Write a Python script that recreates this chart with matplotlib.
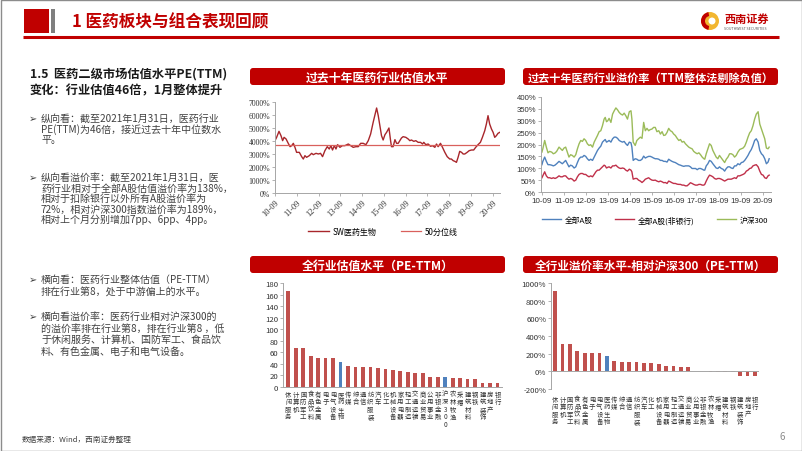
import matplotlib
matplotlib.use("Agg")
import matplotlib.pyplot as plt
from matplotlib.patches import FancyBboxPatch, Rectangle, Circle, Wedge

plt.rcParams['font.family'] = ['Noto Sans CJK SC', 'DejaVu Sans']
plt.rcParams['axes.unicode_minus'] = False

W, H = 802, 452

# ---- data ----
# PE(TTM) of SW pharma, months counted from 2010-09
pe_month = [0, 0.9, 2.2, 3.3, 4.2, 5.0, 6.1, 7.3, 8.3, 9.2,
            10.1, 11.0, 11.9, 13.4, 14.7, 15.6, 16.5, 17.4, 18.9, 20.2,
            21.1, 22.6, 23.9, 25.1, 26.2, 27.5, 28.8, 29.9, 30.8, 31.7,
            32.7, 33.6, 34.5, 35.8, 37.1, 38.5, 40.4, 41.7, 43.1, 44.6,
            45.9, 47.2, 48.6, 50.1, 51.4, 52.7, 54.1, 55.2, 56.0, 56.9,
            57.8, 58.7, 59.6, 60.6, 61.5, 62.8, 63.7, 64.2, 65.1, 66.1,
            67.0, 67.9, 68.8, 69.7, 70.6, 72.1, 73.4, 74.3, 75.2, 76.5,
            77.6, 78.9, 80.2, 81.3, 82.0, 83.1, 84.4, 85.7, 86.8, 88.1,
            89.0, 89.9, 91.2, 92.3, 93.6, 94.9, 96.3, 97.2, 98.2, 99.1,
            100.0, 100.9, 101.8, 102.8, 103.7, 104.6, 105.9, 107.0, 108.3, 109.5,
            110.6, 111.9, 113.2, 114.3, 115.6, 116.5, 117.4, 118.3, 119.3, 120.2,
            121.1, 122.0, 122.9, 123.9]
pe_value = [4026, 4282, 4744, 4410, 4026, 4282, 4154, 3821, 3564, 3641,
            3821, 3513, 3128, 3128, 2795, 2615, 2872, 2744, 2872, 3051,
            2949, 3051, 3000, 3051, 2795, 3256, 3564, 3385, 3641, 3308,
            3641, 3385, 3718, 3513, 3641, 3641, 3769, 3641, 3513, 3564,
            3564, 3821, 3821, 3718, 4026, 4538, 5436, 6077, 6538, 5949,
            5179, 4410, 4077, 4487, 4667, 5000, 4026, 3564, 3564, 4103,
            3821, 3821, 4026, 4231, 4333, 4282, 4154, 4026, 4077, 3974,
            4026, 3897, 3897, 3769, 3897, 3718, 3769, 3590, 3641, 3513,
            3769, 3564, 3821, 3513, 3128, 2795, 2615, 2615, 2487, 2436,
            2359, 2744, 3205, 3128, 3000, 3000, 3128, 3256, 3308, 3308,
            3513, 3718, 3897, 4282, 4795, 5308, 5949, 5308, 4923, 4667,
            4282, 4410, 4590, 4667]
pe_median = 3690
time_ticks = ["10-09", "11-09", "12-09", "13-09", "14-09", "15-09",
              "16-09", "17-09", "18-09", "19-09", "20-09"]

# premium rates (%), months counted from 2010-09
prem_month = [0, 0.5, 1.5, 2.4, 3.3, 4.2, 5.3, 6.2, 7.1, 8.0,
              9.3, 10.2, 11.1, 12.0, 12.9, 13.8, 14.7, 15.6, 16.5, 17.5,
              18.4, 19.3, 20.2, 21.1, 22.0, 22.9, 23.8, 24.7, 25.6, 26.5,
              27.5, 28.4, 29.3, 30.2, 31.1, 32.0, 32.9, 33.8, 34.4, 35.1,
              35.8, 36.5, 37.5, 38.4, 39.3, 40.2, 41.1, 42.0, 42.9, 43.8,
              44.7, 45.6, 46.5, 47.5, 48.4, 48.9, 49.6, 50.7, 51.6, 52.5,
              53.5, 54.4, 55.3, 56.2, 57.1, 58.0, 58.9, 59.8, 60.7, 61.6,
              62.5, 63.5, 64.4, 65.3, 66.2, 67.1, 68.0, 68.9, 69.8, 70.7,
              71.6, 72.5, 73.5, 74.4, 75.3, 76.2, 77.1, 78.0, 78.9, 79.8,
              80.7, 81.6, 82.5, 83.5, 84.4, 85.3, 86.2, 87.1, 88.0, 88.5,
              89.3, 90.2, 91.1, 92.0, 92.9, 93.8, 94.7, 95.6, 96.5, 97.5,
              98.4, 99.3, 100.2, 101.1, 102.0, 102.9, 103.8, 104.7, 105.6, 106.5,
              107.5, 108.4, 109.3, 110.2, 111.1, 112.0, 112.9, 113.8, 114.7, 115.6,
              116.5, 117.5, 118.4, 119.3, 120.2, 121.1, 122.0, 122.9, 123.5]
prem_all = [115, 129, 147, 129, 115, 115, 113, 110, 113, 119,
            129, 124, 119, 126, 133, 119, 106, 113, 110, 101,
            106, 124, 140, 147, 147, 154, 150, 140, 133, 138,
            133, 147, 161, 175, 185, 193, 210, 217, 221, 210,
            213, 217, 210, 224, 231, 231, 226, 217, 213, 210,
            213, 203, 196, 210, 207, 189, 133, 140, 138, 133,
            133, 138, 151, 143, 147, 150, 150, 147, 143, 140,
            140, 138, 133, 133, 129, 129, 126, 138, 133, 129,
            126, 124, 119, 115, 113, 110, 108, 110, 110, 110,
            106, 99, 99, 99, 94, 99, 99, 96, 92, 92,
            110, 119, 133, 129, 119, 110, 101, 99, 106, 99,
            96, 88, 99, 106, 106, 101, 99, 110, 110, 119,
            115, 124, 126, 133, 143, 154, 168, 179, 196, 217,
            224, 210, 175, 161, 154, 140, 119, 126, 140]
prem_nonbank = [60, 68, 85, 68, 60, 60, 57, 60, 57, 60,
                68, 64, 64, 68, 68, 60, 54, 57, 54, 46,
                50, 64, 74, 78, 78, 74, 74, 68, 64, 68,
                64, 74, 85, 92, 92, 99, 106, 113, 110, 101,
                104, 106, 101, 110, 110, 113, 106, 101, 99, 101,
                99, 92, 88, 96, 92, 85, 54, 57, 57, 50,
                46, 40, 46, 54, 57, 60, 54, 50, 49, 50,
                46, 43, 46, 43, 39, 40, 36, 46, 43, 39,
                36, 36, 33, 32, 32, 29, 29, 26, 26, 32,
                39, 36, 32, 29, 29, 32, 32, 29, 29, 32,
                46, 60, 71, 68, 64, 57, 54, 57, 57, 54,
                50, 46, 50, 54, 54, 54, 57, 60, 57, 68,
                68, 71, 74, 78, 88, 92, 99, 101, 110, 113,
                115, 106, 88, 74, 71, 60, 57, 68, 71]
prem_hs300 = [168, 182, 217, 189, 165, 171, 168, 161, 164, 171,
              189, 182, 175, 185, 189, 168, 147, 157, 154, 147,
              157, 182, 203, 217, 213, 224, 217, 203, 196, 199,
              189, 210, 224, 238, 254, 258, 279, 307, 314, 296,
              300, 310, 293, 328, 342, 354, 346, 335, 328, 324,
              332, 321, 307, 338, 342, 307, 210, 196, 217, 224,
              231, 226, 293, 258, 268, 258, 263, 265, 272, 272,
              254, 258, 244, 254, 238, 240, 251, 268, 258, 254,
              244, 238, 226, 217, 221, 210, 213, 203, 196, 189,
              185, 182, 171, 165, 161, 165, 157, 147, 140, 138,
              161, 182, 203, 196, 175, 161, 147, 140, 154, 143,
              133, 124, 138, 147, 161, 161, 157, 147, 154, 168,
              179, 182, 185, 193, 210, 231, 249, 258, 279, 307,
              328, 338, 286, 265, 244, 224, 185, 182, 189]

# industry PE(TTM)
pe_inds = ["休闲服务", "计算机", "国防军工", "食品饮料", "有色金属", "电子", "电气设备",
           "医药生物", "传媒", "综合", "通信", "纺织服装", "汽车", "化工", "机械设备",
           "家用电器", "轻工制造", "交通运输", "商业贸易", "公用事业", "非银金融", "沪深300",
           "农林牧渔", "采掘", "建筑材料", "钢铁", "建筑装饰", "房地产", "银行"]
pe_ind_values = [166, 68, 67, 54, 50, 50, 50, 44, 37, 34, 34, 34, 33, 32, 30,
                 27, 26, 25, 24, 18, 17, 17, 16, 15, 14, 14, 7, 7, 7]

# industry premium vs HS300 (%)
prem_inds = ["休闲服务", "计算机", "国防军工", "食品饮料", "有色金属", "电子", "电气设备",
             "医药生物", "传媒", "综合", "通信", "纺织服装", "汽车", "化工", "机械设备",
             "家用电器", "轻工制造", "交通运输", "商业贸易", "公用事业", "非银金融",
             "农林牧渔", "采掘", "建筑材料", "钢铁", "建筑装饰", "房地产", "银行"]
prem_ind_values = [910, 315, 310, 230, 205, 205, 205, 170, 115, 105, 105, 105, 100, 95,
                   80, 60, 55, 50, 45, 5, 3, -2, -3, -5, -5, -50, -50, -50]
highlight = ["医药生物", "沪深300"]

RED = '#C00000'
BAR_RED = '#C0504D'
BAR_BLUE = '#4F81BD'
GREEN = '#9BBB59'
AXC = '#A6A6A6'

fig = plt.figure(figsize=(W / 100, H / 100), dpi=100)
bg = fig.add_axes([0, 0, 1, 1])
bg.set_xlim(0, W)
bg.set_ylim(H, 0)
bg.axis('off')


def box(x0, y0, x1, y1):
    return [x0 / W, 1 - y1 / H, (x1 - x0) / W, (y1 - y0) / H]


def banner(x0, y0, x1, y1, text, fs):
    bg.add_patch(FancyBboxPatch((x0, y0), x1 - x0, y1 - y0,
                                boxstyle="round,pad=0,rounding_size=3",
                                fc=RED, ec='none'))
    bg.text((x0 + x1) / 2, (y0 + y1) / 2 + 0.5, text, color='white', fontsize=fs,
            fontweight='bold', ha='center', va='center')


# slide frame + header
bg.add_patch(Rectangle((0.5, 0.5), W - 1, H - 1, fill=False, ec='#8C8C8C', lw=1))
bg.add_patch(Rectangle((24, 10), 25, 24, fc=RED, ec='none'))
bg.add_patch(Rectangle((51, 10), 4, 24, fc='#7F7F7F', ec='none'))
bg.text(72, 22, "1 医药板块与组合表现回顾", color=RED, fontsize=12,
        fontweight='bold', va='center', ha='left')
bg.plot([23, 779], [38, 38], color=RED, lw=2.2, solid_capstyle='butt')
bg.add_patch(Circle((710, 22), 9, fc='#F2B630', ec='none'))
bg.add_patch(Wedge((710, 22), 9, 100, 260, width=4, fc=RED, ec='none'))
bg.add_patch(Circle((712, 22), 3.5, fc='white', ec='none'))
bg.text(724, 19, "西南证券", color=RED, fontsize=8, fontweight='bold', va='center')
bg.text(724, 29, "SOUTHWEST SECURITIES", color='#555555', fontsize=2.6, va='center')

# left text block
bg.text(30, 74, "1.5  医药二级市场估值水平PE(TTM)", fontsize=8.8, fontweight='bold',
        color='#1A1A1A', va='center')
bg.text(30, 91, "变化：行业估值46倍，1月整体提升", fontsize=8.8, fontweight='bold',
        color='#1A1A1A', va='center')

bullets = [
    ([119, 129.5, 140], ["纵向看：截至2021年1月31日，医药行业",
                         "PE(TTM)为46倍，接近过去十年中位数水",
                         "平。"]),
    ([178, 188.5, 199, 209.5, 220], ["纵向看溢价率：截至2021年1月31日，医",
                                     "药行业相对于全部A股估值溢价率为138%，",
                                     "相对于扣除银行以外所有A股溢价率为",
                                     "72%，相对沪深300指数溢价率为189%，",
                                     "相对上个月分别增加7pp、6pp、4pp。"]),
    ([280, 291.5], ["横向看：医药行业整体估值（PE-TTM）",
                    "排在行业第8，处于中游偏上的水平。"]),
    ([317, 328.5, 340, 351.5], ["横向看溢价率：医药行业相对沪深300的",
                                "的溢价率排在行业第8，排在行业第8 ，低",
                                "于休闲服务、计算机、国防军工、食品饮",
                                "料、有色金属、电子和电气设备。"]),
]
for ys, lines in bullets:
    bg.text(29, ys[0], "➢", fontsize=7, color='#404040', va='center',
            family=['DejaVu Sans'])
    for y, line in zip(ys, lines):
        bg.text(41, y, line, fontsize=7.2, color='#404040', va='center')

# footer
bg.text(22, 440, "数据来源：Wind，西南证券整理", fontsize=5.5, color='#404040', va='center')
bg.text(780, 437, "6", fontsize=7, color='#8C8C8C', va='center')

# banners
banner(250, 69, 505, 86, "过去十年医药行业估值水平", 8.6)
banner(523, 69, 778, 86, "过去十年医药行业溢价率（TTM整体法剔除负值）", 8)
banner(250, 257, 505, 274, "全行业估值水平（PE-TTM）", 8.6)
banner(523, 257, 778, 274, "全行业溢价率水平-相对沪深300（PE-TTM）", 8.4)


def style_axes(ax):
    for s in ['top', 'right']:
        ax.spines[s].set_visible(False)
    for s in ['left', 'bottom']:
        ax.spines[s].set_color(AXC)
        ax.spines[s].set_linewidth(0.7)
    ax.tick_params(colors=AXC, length=2, width=0.6, labelcolor='#333333', pad=1.5)
    ax.patch.set_alpha(0)


# chart 1: PE history
ax1 = fig.add_axes(box(275, 103, 500, 194))
style_axes(ax1)
ax1.plot(pe_month, pe_value, color='#A8262B', lw=1.0, label="SW医药生物")
ax1.axhline(pe_median, color='#D9605C', lw=0.9, label="50分位线")
ax1.set_xlim(0, 124)
ax1.set_ylim(0, 7000)
ax1.set_yticks(range(0, 7001, 1000))
ax1.set_yticklabels([f"{v}%" for v in range(0, 7001, 1000)], fontsize=5.6,
                    family='Liberation Serif')
ax1.set_xticks(range(0, 121, 12))
ax1.set_xticklabels(time_ticks, fontsize=6, family='Liberation Serif',
                    rotation=45, ha='right', rotation_mode='anchor')
ax1.legend(loc='center', bbox_to_anchor=(383 / W, 1 - 232 / H),
           bbox_transform=fig.transFigure, ncol=2, frameon=False, fontsize=5.8,
           handlelength=2.5, columnspacing=3, handletextpad=0.5)

# chart 2: premium history
ax2 = fig.add_axes(box(541, 98, 771, 193))
style_axes(ax2)
ax2.plot(prem_month, prem_all, color=BAR_BLUE, lw=1.0, label="全部A股")
ax2.plot(prem_month, prem_nonbank, color='#C0304A', lw=1.0, label="全部A股(非银行)")
ax2.plot(prem_month, prem_hs300, color=GREEN, lw=1.0, label="沪深300")
ax2.set_xlim(-0.5, 124.5)
ax2.set_ylim(0, 400)
ax2.set_yticks(range(0, 401, 50))
ax2.set_yticklabels([f"{v}%" for v in range(0, 401, 50)], fontsize=5.6,
                    family='Liberation Sans')
ax2.set_xticks(range(0, 121, 12))
ax2.set_xticklabels(time_ticks, fontsize=5.8, family='Liberation Sans')
ax2.legend(loc='center', bbox_to_anchor=(655 / W, 1 - 221 / H),
           bbox_transform=fig.transFigure, ncol=3, frameon=False, fontsize=5.6,
           handlelength=2.5, columnspacing=2.8, handletextpad=0.5)


def vert(s):
    return "\n".join(s)


# chart 3: industry PE
ax3 = fig.add_axes(box(283, 284, 502, 388))
style_axes(ax3)
x3 = range(len(pe_inds))
ax3.bar(x3, pe_ind_values, width=0.5,
        color=[BAR_BLUE if c in highlight else BAR_RED for c in pe_inds])
ax3.set_xlim(-0.7, len(pe_inds) - 0.4)
ax3.set_ylim(0, 180)
ax3.set_yticks(range(0, 181, 20))
ax3.tick_params(axis='y', labelsize=5.6)
ax3.set_xticks(list(x3))
ax3.set_xticklabels([vert(c) for c in pe_inds], fontsize=4.6, linespacing=0.92)
ax3.tick_params(axis='x', length=0, pad=2)

# chart 4: industry premium vs HS300
ax4 = fig.add_axes(box(551, 284, 759, 390))
style_axes(ax4)
x4 = range(len(prem_inds))
ax4.bar(x4, prem_ind_values, width=0.5,
        color=[BAR_BLUE if c in highlight else BAR_RED for c in prem_inds])
ax4.axhline(0, color=AXC, lw=0.7)
ax4.spines['bottom'].set_visible(False)
ax4.set_xlim(-0.55, len(prem_inds) - 0.45)
ax4.set_ylim(-200, 1000)
ax4.set_yticks(range(-200, 1001, 200))
ax4.set_yticklabels([f"{v}%" for v in range(-200, 1001, 200)], fontsize=5.6)
ax4.set_xticks(list(x4))
ax4.set_xticklabels([vert(c) for c in prem_inds], fontsize=4.6, linespacing=0.92)
ax4.tick_params(axis='x', length=0, pad=4)

fig.savefig("out.png", dpi=100)
